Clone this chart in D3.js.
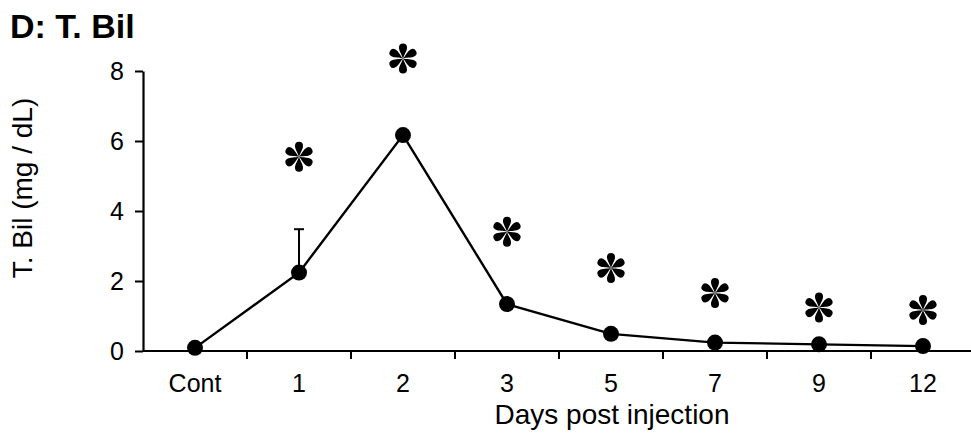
<!doctype html>
<html>
<head>
<meta charset="utf-8">
<script src="https://cdnjs.cloudflare.com/ajax/libs/d3/7.8.5/d3.min.js"></script>
<style>
    body{
        margin: 0;
        background-color: white;
    }
    svg text{
        font-family: "Liberation Sans", Arial, sans-serif;
        fill: black;
    }
</style>
</head>
<body>
<div id="container"></div>
<script>
    const width = 971;
    const height = 446;

    // data
    var days = ["Cont", "1", "2", "3", "5", "7", "9", "12"];
    var tbil = [0.09, 2.24, 6.17, 1.34, 0.49, 0.24, 0.19, 0.14];
    var errUp = [0, 1.24, 0, 0, 0, 0, 0, 0];
    var starY = [null, 5.55, 8.36, 3.41, 2.37, 1.66, 1.24, 1.17];
    var yTicks = [0, 2, 4, 6, 8];

    var svg = d3.select('#container')
        .append('svg')
        .attr('width', width)
        .attr('height', height);

    var xScale = d3.scaleBand()
        .domain(days)
        .range([143, 975])
        .padding(0);

    var yScale = d3.scaleLinear()
        .domain([0, 8])
        .range([351, 71]);

    //title
    svg.append('text')
        .attr('x', 10)
        .attr('y', 38)
        .style('font-size', '34px')
        .style('font-weight', 'bold')
        .text('D: T. Bil');

    //x axis, ticks on band edges
    var xAxis = svg.append('g')
        .attr('transform', 'translate(0,' + yScale(0) + ')');
    xAxis.append('line')
        .attr('x1', 143).attr('x2', 975)
        .attr('stroke', 'black').attr('stroke-width', 2.2);
    xAxis.selectAll('.edge')
        .data(days.slice(1))
        .enter()
        .append('line')
        .attr('class', 'edge')
        .attr('x1', d => xScale(d)).attr('x2', d => xScale(d))
        .attr('y1', 0).attr('y2', 8)
        .attr('stroke', 'black').attr('stroke-width', 2);
    xAxis.selectAll('.lab')
        .data(days)
        .enter()
        .append('text')
        .attr('class', 'lab')
        .attr('x', d => xScale(d) + xScale.bandwidth() / 2)
        .attr('y', 41)
        .attr('text-anchor', 'middle')
        .style('font-size', '25px')
        .text(d => d);

    //y axis
    var yAxis = d3.axisLeft(yScale)
        .tickValues(yTicks)
        .tickSize(8)
        .tickPadding(11)
        .tickSizeOuter(0);
    var yg = svg.append('g')
        .attr('transform', 'translate(143,0)')
        .call(yAxis);
    yg.select('.domain').attr('stroke-width', 2.2);
    yg.selectAll('.tick line').attr('stroke-width', 2);
    yg.selectAll('.tick text')
        .style('font-size', '25px')
        .style('font-family', '"Liberation Sans", Arial, sans-serif');

    //axis titles
    svg.append('text')
        .attr('x', 612)
        .attr('y', 424)
        .attr('text-anchor', 'middle')
        .style('font-size', '28px')
        .text('Days post injection');

    svg.append('text')
        .attr('transform', 'translate(32,' + 188 + ') rotate(-90)')
        .attr('text-anchor', 'middle')
        .style('font-size', '28px')
        .text('T. Bil (mg / dL)');

    var pts = days.map((d, i) => ({day: d, v: tbil[i], e: errUp[i], s: starY[i]}));

    //error bar
    var eb = svg.append('g');
    pts.filter(d => d.e > 0).forEach(function(d){
        var cx = xScale(d.day) + xScale.bandwidth() / 2;
        eb.append('line')
            .attr('x1', cx).attr('x2', cx)
            .attr('y1', yScale(d.v)).attr('y2', yScale(d.v + d.e))
            .attr('stroke', 'black').attr('stroke-width', 2);
        eb.append('line')
            .attr('x1', cx - 5).attr('x2', cx + 5)
            .attr('y1', yScale(d.v + d.e)).attr('y2', yScale(d.v + d.e))
            .attr('stroke', 'black').attr('stroke-width', 2);
    });

    //line
    var line = d3.line()
        .x(d => xScale(d.day) + xScale.bandwidth() / 2)
        .y(d => yScale(d.v));
    svg.append('path')
        .datum(pts)
        .attr('d', line)
        .attr('fill', 'none')
        .attr('stroke', 'black')
        .attr('stroke-width', 2.4);

    svg.selectAll('.dot')
        .data(pts)
        .enter()
        .append('circle')
        .attr('class', 'dot')
        .attr('cx', d => xScale(d.day) + xScale.bandwidth() / 2)
        .attr('cy', d => yScale(d.v))
        .attr('r', 8)
        .attr('fill', 'black');

    //asterisks, 6 teardrop petals
    var petal = 'M0,0 C-1,-3.5 -4.2,-8 -4,-11 A4,4 0 0 1 4,-11 C4.2,-8 1,-3.5 0,0 Z';
    var stars = svg.selectAll('.star')
        .data(pts.filter(d => d.s != null))
        .enter()
        .append('g')
        .attr('class', 'star')
        .attr('transform', d => 'translate(' + (xScale(d.day) + xScale.bandwidth() / 2) + ',' + yScale(d.s) + ')');
    [0, 60, 120, 180, 240, 300].forEach(function(a){
        stars.append('path')
            .attr('d', petal)
            .attr('transform', 'rotate(' + a + ')')
            .attr('fill', 'black');
    });
</script>
</body>
</html>
